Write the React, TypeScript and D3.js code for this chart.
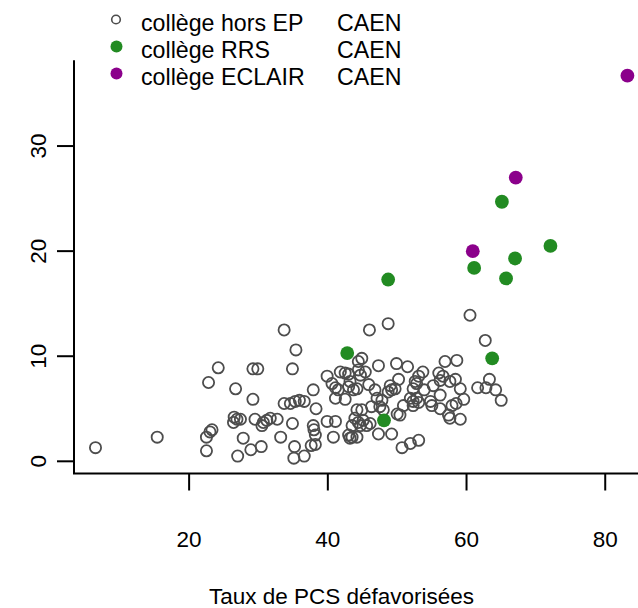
import React from "react";
import * as d3 from "d3";

// Grey open circles: collège hors EP
const horsEpX = [6.5, 15.4, 24.2, 22.8, 26.7, 29.2, 29.9, 29.2, 26.5, 26.9, 27.4, 26.4, 29.5, 30.7, 31.2, 31.7, 32.7, 30.5, 34.9, 37.9, 23.3, 23.0, 22.5, 27.8, 33.2, 38.2, 22.5, 30.4, 28.9, 27.0, 35.2, 37.6, 38.2, 35.1, 36.6, 33.7, 35.4, 34.9, 37.9, 33.7, 34.6, 35.3, 35.9, 36.6, 38.3, 38.0,
  48.7, 46.0, 44.9, 44.4, 47.3, 49.9, 51.5, 39.9, 41.8, 42.5, 43.0, 44.4, 45.4, 44.7, 40.6, 41.1, 41.5, 43.2, 43.0, 43.7, 44.2, 45.9, 46.8, 49.0, 49.2, 48.7, 49.7, 50.2, 52.3, 52.8, 41.1, 42.5, 47.1, 47.8, 47.5, 48.0, 46.3, 50.9, 51.9, 52.3, 52.8, 44.2, 44.9, 43.9, 44.4, 45.1, 45.6, 46.1, 43.5, 44.7, 39.9, 41.1, 50.0, 50.4, 40.8, 43.0, 43.5, 44.2, 43.2, 47.3, 49.2, 50.7, 51.9, 53.1,
  60.5, 62.7, 56.9, 58.6, 53.7, 53.1, 52.6, 56.0, 56.6, 56.2, 57.6, 58.4, 55.2, 53.9, 59.1, 63.3, 61.6, 62.8, 64.2, 65.0, 56.2, 59.6, 58.5, 57.9, 53.1, 52.3, 54.8, 55.0, 56.2, 57.4, 57.6, 59.1];
const horsEpY = [1.3, 2.3, 8.9, 7.5, 6.9, 8.8, 8.8, 5.9, 4.2, 4.0, 4.0, 3.7, 4.0, 3.7, 3.9, 4.1, 4.0, 3.4, 3.6, 3.4, 3.0, 2.8, 2.3, 2.2, 2.3, 2.5, 1.0, 1.4, 1.1, 0.5, 1.4, 1.5, 1.6, 0.3, 0.5, 12.5, 10.6, 8.8, 6.8, 5.5, 5.5, 5.7, 5.8, 5.7, 5.0, 3.0,
  13.1, 12.5, 9.8, 9.5, 9.1, 9.3, 9.0, 8.1, 8.5, 8.4, 8.3, 8.7, 8.5, 8.2, 7.4, 7.0, 6.8, 7.6, 7.1, 6.8, 6.9, 7.3, 6.8, 7.2, 6.8, 6.6, 6.9, 7.8, 6.9, 7.4, 6.0, 5.9, 6.0, 5.8, 5.2, 4.9, 5.2, 5.3, 6.0, 5.7, 6.0, 4.9, 4.9, 4.1, 3.7, 3.9, 3.4, 3.6, 3.4, 3.4, 3.8, 3.8, 4.5, 4.4, 2.3, 2.5, 2.3, 2.3, 2.2, 2.6, 2.6, 1.3, 1.7, 2.0,
  13.9, 11.5, 9.5, 9.6, 8.5, 8.1, 7.6, 8.4, 8.1, 7.7, 7.6, 7.8, 7.2, 6.8, 6.9, 7.8, 7.0, 7.0, 6.8, 5.8, 6.3, 5.9, 5.5, 5.3, 5.6, 5.3, 5.7, 5.3, 5.0, 4.4, 4.1, 4.0];

// Green: collège RRS
const rrsX = [42.8, 48.7, 48.1, 61.1, 65.1, 65.7, 67.0, 72.1, 63.7];
const rrsY = [10.3, 17.3, 3.9, 18.4, 24.7, 17.4, 19.3, 20.5, 9.8];

// Purple: collège ECLAIR
const eclairX = [60.9, 67.1, 83.2];
const eclairY = [20.0, 27.0, 36.7];

const xTicks = [20, 40, 60, 80];
const yTicks = [0, 10, 20, 30];

const legendNames = ["collège hors EP", "collège RRS", "collège ECLAIR"];
const legendCity = ["CAEN", "CAEN", "CAEN"];
const xTitle = "Taux de PCS défavorisées";

const W = 638;
const H = 608;
const FONT = "'Liberation Sans', Arial, Helvetica, sans-serif";
const GREY = "#4d4d4d";
const GREEN = "#228B22";
const PURPLE = "#8B008B";

export default function App() {
  const left = 74;
  const right = 651;
  const top = 60.3;
  const bottom = 473.5;
  const x = d3.scaleLinear().domain([3.4, 86.6]).range([left, right]);
  const y = d3.scaleLinear().domain([-1.16, 38.16]).range([bottom, top]);
  const tick = 17;
  const fs = 22.5;
  const lfs = 23.2;

  const grey = d3.zip(horsEpX, horsEpY);
  const green = d3.zip(rrsX, rrsY);
  const purple = d3.zip(eclairX, eclairY);
  const legendColors = [GREY, GREEN, PURPLE];
  const legendY = d3.scalePoint().domain(legendNames).range([19.5, 73.5]);

  return (
    <div style={{ position: "absolute", left: 0, top: 0 }}>
      <svg width={W} height={H} style={{ display: "block", overflow: "hidden" }} fontFamily={FONT}>
        <rect width={W} height={H} fill="#fff" />
        {/* axes */}
        <path d={`M${left},${top}V${bottom}H${right}`} fill="none" stroke="#000" strokeWidth={2} />
        {yTicks.map((t) => (
          <g key={"y" + t}>
            <line x1={left - tick} x2={left} y1={y(t)} y2={y(t)} stroke="#000" strokeWidth={2} />
            <text
              transform={`translate(38,${y(t)}) rotate(-90)`}
              textAnchor="middle"
              dominantBaseline="central"
              fontSize={fs}
              fill="#000"
            >
              {t}
            </text>
          </g>
        ))}
        {xTicks.map((t) => (
          <g key={"x" + t}>
            <line x1={x(t)} x2={x(t)} y1={bottom} y2={bottom + tick} stroke="#000" strokeWidth={2} />
            <text x={x(t)} y={547} textAnchor="middle" fontSize={fs} fill="#000">
              {t}
            </text>
          </g>
        ))}
        <text x={341.5} y={604} textAnchor="middle" fontSize={fs} fill="#000">
          {xTitle}
        </text>
        {/* points */}
        {grey.map(([a, b], i) => (
          <circle key={"g" + i} cx={x(a)} cy={y(b)} r={5.6} fill="none" stroke={GREY} strokeWidth={1.8} />
        ))}
        {green.map(([a, b], i) => (
          <circle key={"r" + i} cx={x(a)} cy={y(b)} r={6.9} fill={GREEN} />
        ))}
        {purple.map(([a, b], i) => (
          <circle key={"e" + i} cx={x(a)} cy={y(b)} r={6.9} fill={PURPLE} />
        ))}
        {/* legend */}
        {legendNames.map((n, i) => {
          const cy = legendY(n) as number;
          return (
            <g key={"l" + i}>
              {i === 0 ? (
                <circle cx={116} cy={cy} r={4.3} fill="none" stroke={GREY} strokeWidth={1.6} />
              ) : (
                <circle cx={116.5} cy={cy} r={6} fill={legendColors[i]} />
              )}
              <text x={141} y={cy + 11.2} fontSize={lfs} fill="#000">
                {n}
              </text>
              <text x={337} y={cy + 11.2} fontSize={lfs} fill="#000">
                {legendCity[i]}
              </text>
            </g>
          );
        })}
      </svg>
    </div>
  );
}
